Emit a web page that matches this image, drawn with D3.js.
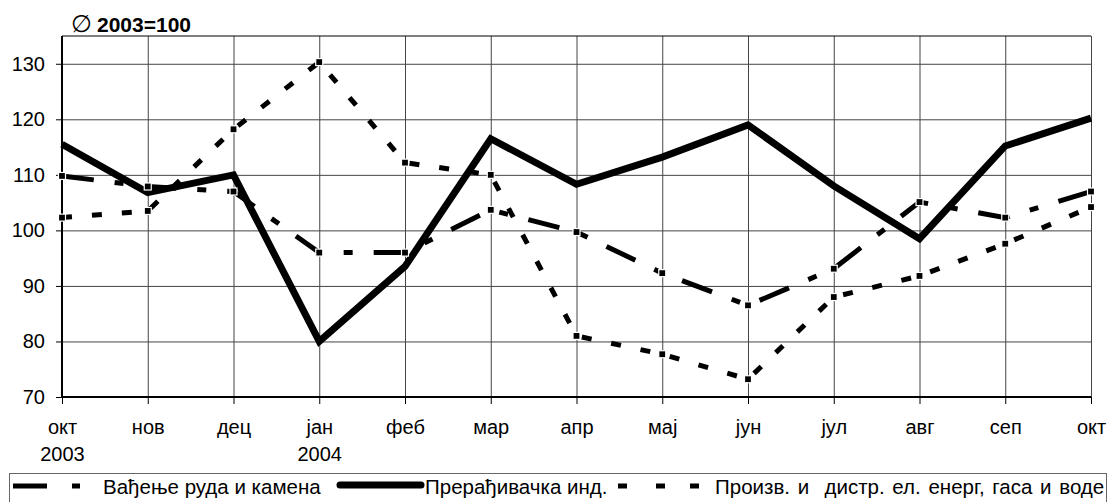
<!DOCTYPE html>
<meta charset="utf-8">
<style>
body { margin: 0; background: #fff; }
svg { font-family: "Liberation Sans", Arial, sans-serif; }
.grid line { stroke: #444; stroke-width: 1; }
.grid path { display: none; }
.axis text { font-size: 20px; fill: #000; }
.axis path, .axis line { stroke: #000; }
</style>
<body>
<script src="https://cdn.jsdelivr.net/npm/d3@7"></script>
<script>

// months along the x axis (Oct 2003 .. Oct 2004)
var months = ["окт", "нов", "дец", "јан", "феб", "мар", "апр", "мај", "јун", "јул", "авг", "сеп", "окт"];
var years = ["2003", "", "", "2004", "", "", "", "", "", "", "", "", ""];
var yTicks = [70, 80, 90, 100, 110, 120, 130];

// index values, ∅ 2003 = 100
var mining = [109.8, 107.9, 107, 96, 96, 103.7, 99.7, 92.3, 86.5, 93.1, 105.1, 102.3, 107];
var manufacturing = [115.5, 106.8, 110, 80, 93.5, 116.5, 108.3, 113.2, 119, 108, 98.5, 115.2, 120.2];
var energy = [102.3, 103.5, 118.2, 130.3, 112.2, 110, 81, 77.7, 73.2, 88, 91.8, 97.6, 104.2];

var seriesNames = ["Вађење руда и камена", "Прерађивачка инд.", "Произв. и  дистр. ел. енерг, гаса и воде"];

var W = 1109, H = 502;
var margin = {left: 62, right: 1091, top: 36, bottom: 397};

var svg = d3.select("body").append("svg")
    .attr("width", W)
    .attr("height", H);

var x = d3.scalePoint()
    .domain(d3.range(months.length))
    .range([margin.left, margin.right]);

var y = d3.scaleLinear()
    .domain([70, 135])
    .range([margin.bottom, margin.top]);

// horizontal grid
svg.append("g")
    .attr("class", "grid")
    .attr("transform", "translate(" + margin.left + ",0)")
    .call(d3.axisLeft(y).tickValues(yTicks.slice(1)).tickSize(-(margin.right - margin.left)).tickFormat(""));

// vertical grid
svg.append("g")
    .attr("class", "grid")
    .attr("transform", "translate(0," + margin.bottom + ")")
    .call(d3.axisBottom(x).tickSize(-(margin.bottom - margin.top)).tickFormat(""));

// top border
svg.append("line")
    .attr("x1", margin.left).attr("x2", margin.right)
    .attr("y1", margin.top).attr("y2", margin.top)
    .attr("stroke", "#000");

// y axis
var yAxis = svg.append("g")
    .attr("class", "axis")
    .attr("transform", "translate(" + margin.left + ",0)")
    .call(d3.axisLeft(y).tickValues(yTicks).tickSize(6).tickPadding(11));
yAxis.select(".domain").attr("stroke-width", 2).attr("d", "M0," + margin.top + "V" + margin.bottom);

// x axis
var xAxis = svg.append("g")
    .attr("class", "axis")
    .attr("transform", "translate(0," + margin.bottom + ")")
    .call(d3.axisBottom(x).tickSize(7).tickFormat(""));
xAxis.select(".domain").attr("stroke-width", 2).attr("d", "M" + margin.left + ",0H" + margin.right);

xAxis.selectAll(".tick").append("text")
    .attr("y", 37)
    .attr("text-anchor", "middle")
    .text(function(d) { return months[d]; });
xAxis.selectAll(".tick").append("text")
    .attr("y", 64)
    .attr("text-anchor", "middle")
    .text(function(d) { return years[d]; });

// title
var title = svg.append("text")
    .attr("x", 71)
    .attr("y", 32);
title.append("tspan").style("font-size", "24px").text("∅");
title.append("tspan").attr("x", 97).style("font-size", "21px").style("font-weight", "bold").text("2003=100");

var line = d3.line()
    .x(function(d, i) { return x(i); })
    .y(function(d) { return y(d); });

svg.append("path")
    .datum(manufacturing)
    .attr("d", line)
    .attr("fill", "none")
    .attr("stroke", "#000")
    .attr("stroke-width", 7)
    .attr("stroke-linejoin", "miter");

svg.append("path")
    .datum(mining)
    .attr("d", line)
    .attr("fill", "none")
    .attr("stroke", "#000")
    .attr("stroke-width", 5)
    .attr("stroke-dasharray", "32,21,9,21");

svg.append("path")
    .datum(energy)
    .attr("d", line)
    .attr("fill", "none")
    .attr("stroke", "#000")
    .attr("stroke-width", 5)
    .attr("stroke-dasharray", "10,20");

// small markers with white rim at the data points of the dashed series
[mining, energy].forEach(function(series) {
  svg.append("g").selectAll("rect")
      .data(series)
    .enter().append("rect")
      .attr("x", function(d, i) { return x(i) - 3.5; })
      .attr("y", function(d) { return y(d) - 3.5; })
      .attr("width", 7)
      .attr("height", 7)
      .attr("fill", "#000")
      .attr("stroke", "#fff")
      .attr("stroke-width", 1.2);
});

// legend
var lg = svg.append("g");
lg.append("rect")
    .attr("x", 9.5).attr("y", 473.5)
    .attr("width", 1097).attr("height", 40)
    .attr("fill", "#fff")
    .attr("stroke", "#666");

var ly = 486;
lg.append("line").attr("x1", 13).attr("x2", 47).attr("y1", ly).attr("y2", ly)
    .attr("stroke", "#000").attr("stroke-width", 5);
lg.append("line").attr("x1", 72).attr("x2", 80).attr("y1", ly).attr("y2", ly)
    .attr("stroke", "#000").attr("stroke-width", 5);
lg.append("line").attr("x1", 340).attr("x2", 421).attr("y1", ly - 1).attr("y2", ly - 1)
    .attr("stroke", "#000").attr("stroke-width", 7).attr("stroke-linecap", "round");
[618, 656, 690].forEach(function(px) {
  lg.append("line").attr("x1", px).attr("x2", px + 9).attr("y1", ly).attr("y2", ly)
    .attr("stroke", "#000").attr("stroke-width", 5);
});

var legendX = [103, 425, 715];
seriesNames.forEach(function(name, i) {
  lg.append("text")
      .attr("x", legendX[i])
      .attr("y", 494)
      .style("font-size", "20.5px")
      .style("word-spacing", i === 2 ? "2px" : "0px")
      .attr("xml:space", "preserve")
      .text(name);
});

</script>
</body>
